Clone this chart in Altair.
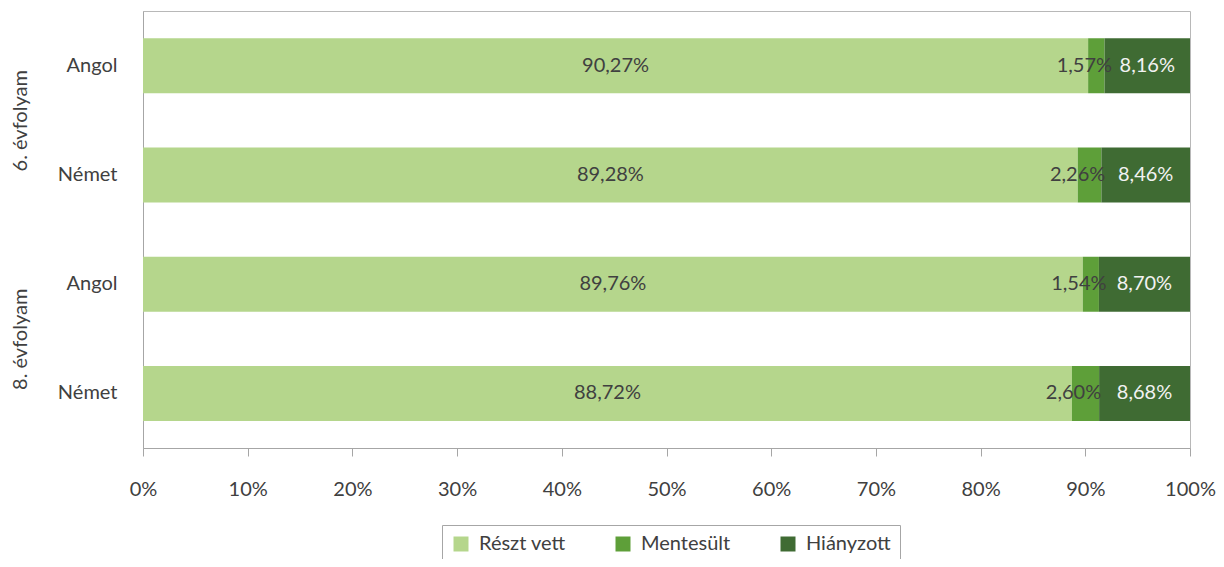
import altair as alt
import pandas as pd

# ---- data ----
grades = ["6. évfolyam", "6. évfolyam", "8. évfolyam", "8. évfolyam"]
languages = ["Angol", "Német", "Angol", "Német"]
categories = ["Részt vett", "Mentesült", "Hiányzott"]
reszt_vett = [90.27, 89.28, 89.76, 88.72]
mentesult = [1.57, 2.26, 1.54, 2.60]
hianyzott = [8.16, 8.46, 8.70, 8.68]
colors = ["#B5D68C", "#5E9F39", "#3F6B33"]
x_ticks = [0, 0.1, 0.2, 0.3, 0.4, 0.5, 0.6, 0.7, 0.8, 0.9, 1.0]

FONT = "Lato"
TXT = "#404040"
GRAY = "#a6a6a6"

rows = []
series = [reszt_vett, mentesult, hianyzott]
for i, (g, l) in enumerate(zip(grades, languages)):
    key = f"{g}|{l}"
    for ci, (cat, vals) in enumerate(zip(categories, series)):
        v = vals[i]
        rows.append({
            "key": key, "grade": g, "lang": l, "cat": cat, "ord": ci,
            "value": v, "label": f"{v:.2f}".replace(".", ",") + "%",
        })
df = pd.DataFrame(rows)
keys = [f"{g}|{l}" for g, l in zip(grades, languages)]
group_df = pd.DataFrame({"grade": list(dict.fromkeys(grades))})

base = alt.Chart(df).transform_stack(
    stack="value", groupby=["key"], sort=[alt.SortField("ord")],
    as_=["x0", "x1"], offset="normalize",
).transform_calculate(xm="(datum.x0 + datum.x1) / 2")

y_axis = alt.Axis(labelExpr="split(datum.label, '|')[1]", ticks=False, tickSize=0,
                  labelPadding=26, domain=True, domainColor=GRAY,
                  labelFont=FONT, labelFontSize=20, labelColor=TXT,
                  labelAlign="right", labelBaseline="middle")
y_scale = alt.Scale(paddingInner=0.5, paddingOuter=0.25)


def y_enc():
    return alt.Y("key:N", sort=keys, title=None, scale=y_scale, axis=y_axis)


bars = base.mark_bar(size=55).encode(
    x=alt.X("x0:Q", scale=alt.Scale(domain=[0, 1], nice=False),
            axis=alt.Axis(values=x_ticks, format=".0%", title=None, grid=False,
                          tickSize=8, tickColor=GRAY, domainColor=GRAY,
                          labelPadding=23, labelFont=FONT, labelFontSize=20,
                          labelColor=TXT, labelFlush=False)),
    x2="x1:Q",
    y=y_enc(),
    color=alt.Color("cat:N", sort=categories,
                    scale=alt.Scale(domain=categories, range=colors),
                    legend=alt.Legend(
                        title=None, orient="none", direction="horizontal",
                        legendX=299, legendY=514, strokeColor=GRAY, padding=9,
                        symbolType="square", symbolSize=225, symbolStrokeWidth=0,
                        labelFont=FONT, labelFontSize=20, labelColor=TXT,
                        labelOffset=8, columnPadding=47)),
    order=alt.Order("ord:Q"),
)

text_main = base.transform_filter("datum.cat != 'Mentesült'").mark_text(
    font=FONT, fontSize=20, baseline="middle", align="center",
).encode(
    x=alt.X("xm:Q"),
    y=y_enc(),
    text="label:N",
    color=alt.condition("datum.cat == 'Hiányzott'", alt.value("#f2f2f2"), alt.value(TXT)),
)

text_ment = base.transform_filter("datum.cat == 'Mentesült'").mark_text(
    font=FONT, fontSize=20, baseline="middle", align="center", dx=-12, color=TXT,
).encode(
    x=alt.X("xm:Q"),
    y=y_enc(),
    text="label:N",
)

inner = alt.layer(bars, text_main, text_ment)

groups = alt.Chart(group_df).mark_point(opacity=0).encode(
    x=alt.value(0),
    y=alt.Y("grade:N", title=None,
            axis=alt.Axis(orient="left", labelAngle=-90, labelAlign="center",
                          labelBaseline="bottom", labelPadding=113, ticks=False,
                          tickSize=0, domain=False, labelFont=FONT,
                          labelFontSize=20, labelColor=TXT)),
)

chart = alt.layer(inner, groups).resolve_scale(y="independent").properties(
    width=1047, height=437,
    autosize=alt.AutoSizeParams(type="none"),
    padding={"left": 135, "top": 3, "right": 26, "bottom": 111},
).configure_view(stroke="#b8b8b8", strokeWidth=1)

chart.save("out.html", embed_options={"renderer": "svg", "actions": False})
